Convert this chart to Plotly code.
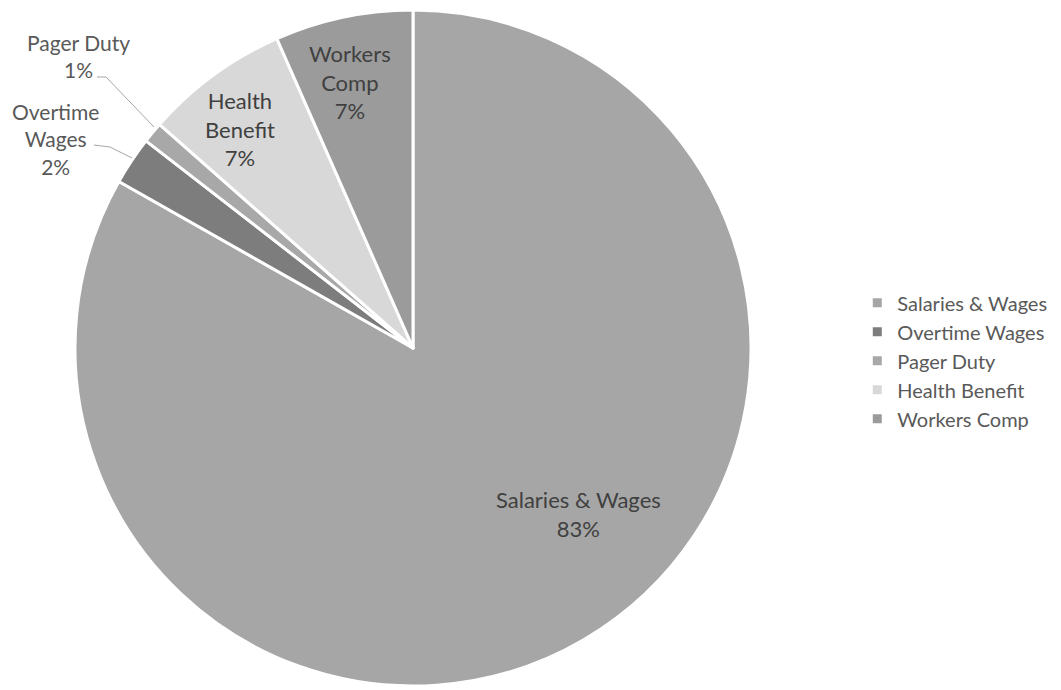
import plotly.graph_objects as go

categories = ["Salaries & Wages", "Overtime Wages", "Pager Duty", "Health Benefit", "Workers Comp"]
values = [83.2, 2.3, 1.0, 6.9, 6.6]
colors = ["#a6a6a6", "#7d7d7d", "#a8a8a8", "#d8d8d8", "#9b9b9b"]

W, H = 1061, 690
cx, cy, R = 413, 348, 338

fig = go.Figure()
fig.add_trace(go.Pie(
    labels=categories,
    values=values,
    sort=False,
    direction="clockwise",
    rotation=0,
    marker=dict(colors=colors, line=dict(color="white", width=3)),
    textinfo="none",
    hoverinfo="label+percent",
    domain=dict(x=[(cx - R) / W, (cx + R) / W], y=[(H - cy - R) / H, (H - cy + R) / H]),
    showlegend=True,
))

total = sum(values)
pct = [round(v / total * 100) for v in values]

def px(x):
    return x / W

def py(y):
    return 1 - y / H

FONT = "Lato, Open Sans, sans-serif"
font_in = dict(family=FONT, size=22, color="#404040")
font_out = dict(family=FONT, size=21, color="#595959")

# label placements (pixel) per slice
label_pos = {
    "Salaries & Wages": (578, 514, font_in),
    "Overtime Wages": (55, 139, font_out),
    "Pager Duty": (78, 56, font_out),
    "Health Benefit": (240, 129, font_in),
    "Workers Comp": (350, 82, font_in),
}
for cat, p in zip(categories, pct):
    x, y, f = label_pos[cat]
    words = cat.split(" ")
    if cat in ("Salaries & Wages", "Pager Duty"):
        txt = cat + "<br>" + f"{p}%"
    else:
        txt = "<br>".join(words) + "<br>" + f"{p}%"
    fig.add_annotation(x=px(x), y=py(y), xref="paper", yref="paper", text=txt,
                       showarrow=False, font=f, align="center",
                       xanchor="center", yanchor="middle")

# leader lines for the outside labels
line_style = dict(color="#a6a6a6", width=1)
for pts in ([(97, 77), (106, 77), (154, 127)], [(94, 145), (110, 147), (132, 158)]):
    path = "M " + " L ".join(f"{px(x)},{py(y)}" for x, y in pts)
    fig.add_shape(type="path", path=path, xref="paper", yref="paper", line=line_style)

fig.update_layout(
    width=W, height=H,
    margin=dict(l=0, r=0, t=0, b=0),
    paper_bgcolor="white",
    plot_bgcolor="white",
    legend=dict(x=0.808, y=0.477, xanchor="left", yanchor="middle",
                font=dict(family=FONT, size=20, color="#595959"),
                itemclick=False),
)

fig.write_html("out.html")
